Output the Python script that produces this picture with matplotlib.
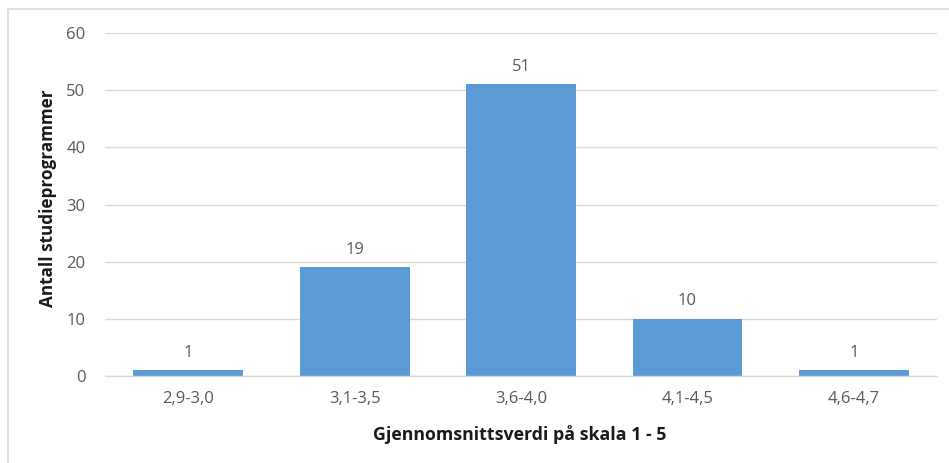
import matplotlib.pyplot as plt
from matplotlib.patches import Rectangle

# Data
categories = ['2,9-3,0', '3,1-3,5', '3,6-4,0', '4,1-4,5', '4,6-4,7']
counts = [1, 19, 51, 10, 1]

plt.rcParams['font.family'] = ['Open Sans', 'DejaVu Sans']

fig = plt.figure(figsize=(9.49, 4.63), dpi=100)
ax = fig.add_axes([0.1106, 0.1879, 0.8768, 0.7408])

bars = ax.bar(categories, counts, width=0.66, color='#5B9BD5', zorder=3)

for rect, v in zip(bars, counts):
    ax.annotate(str(v), (rect.get_x() + rect.get_width() / 2, v),
                xytext=(0, 7), textcoords='offset points',
                ha='center', va='bottom', fontsize=12, color='#595959')

ax.set_ylim(0, 60)
ax.set_xlim(-0.5, len(categories) - 0.5)
ax.set_yticks(range(0, 61, 10))
ax.grid(axis='y', color='#D9D9D9', linewidth=1, zorder=0)
for s in ['top', 'right', 'left']:
    ax.spines[s].set_visible(False)
ax.spines['bottom'].set_color('#D9D9D9')
ax.spines['bottom'].set_linewidth(1)
ax.spines['bottom'].set_zorder(4)
ax.tick_params(axis='both', length=0, labelsize=12, labelcolor='#595959')
ax.tick_params(axis='y', pad=14)
ax.tick_params(axis='x', pad=11)

fig.text(520 / 949, 1 - 435 / 463, 'Gjennomsnittsverdi på skala 1 - 5',
         ha='center', va='center', fontsize=12.8, fontweight='bold', color='#1a1a1a')
fig.text(48 / 949, 1 - 198 / 463, 'Antall studieprogrammer', rotation=90,
         ha='center', va='center', fontsize=12.3, fontweight='bold', color='#1a1a1a')

# outer chart border
fig.patches.append(Rectangle((8 / 949, -0.1), 1.1, 1 - 9 / 463 + 0.1,
                             transform=fig.transFigure, fill=False,
                             edgecolor='#D9D9D9', linewidth=1.2))

fig.savefig('out.png', dpi=100)
